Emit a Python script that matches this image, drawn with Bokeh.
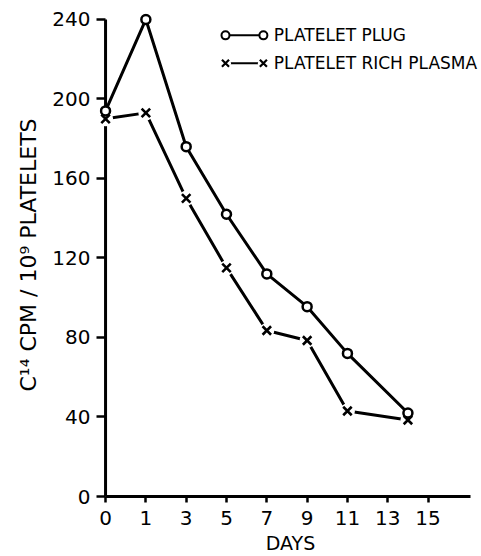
from bokeh.plotting import figure
from bokeh.models import Range1d, FixedTicker, Label
from bokeh.embed import file_html
from bokeh.resources import INLINE

# ---- data ----
days = [0, 1, 3, 5, 7, 9, 11, 14]
platelet_plug = [194, 240, 176, 142, 112, 95.5, 72, 42]
platelet_rich_plasma = [190, 193, 150, 115, 83.5, 78.5, 43, 38.5]
x_tick_days = [0, 1, 3, 5, 7, 9, 11, 13, 15]
y_ticks = [0, 40, 80, 120, 160, 200, 240]
series_names = ["PLATELET PLUG", "PLATELET RICH PLASMA"]

FONT = "DejaVu Sans"


def axis_pos(d):
    # the original axis draws day 0 one 2-day step before day 1
    return d if d >= 1 else d - 1


xs = [axis_pos(d) for d in days]
x0 = axis_pos(0)
x_axis_end = 17.1

p = figure(width=481, height=556,
           x_range=Range1d(x0 - 0.3, x_axis_end + 0.55), y_range=Range1d(0, 243),
           output_backend="svg", toolbar_location=None,
           min_border_left=99, min_border_right=0,
           min_border_top=13, min_border_bottom=60)
p.background_fill_color = "white"
p.border_fill_color = "white"
p.outline_line_color = None
p.xgrid.grid_line_color = None
p.ygrid.grid_line_color = None

# x axis
xa = p.xaxis[0]
xa.ticker = FixedTicker(ticks=[axis_pos(d) for d in x_tick_days])
xa.major_label_overrides = {axis_pos(d): str(d) for d in x_tick_days}
xa.bounds = (x0, x_axis_end)
xa.axis_label = "DAYS"
xa.axis_line_width = 3
xa.major_tick_line_width = 2.5
xa.major_tick_out = 6
xa.major_tick_in = 0
xa.minor_tick_line_color = None
xa.major_label_standoff = 8
xa.axis_label_standoff = 4
xa.major_label_text_font = FONT
xa.major_label_text_font_size = "20px"
xa.major_label_text_color = "black"
xa.axis_label_text_font = FONT
xa.axis_label_text_font_size = "19px"
xa.axis_label_text_font_style = "normal"
xa.axis_label_text_color = "black"

# y axis (its line is drawn as a segment at the day-0 position)
ya = p.yaxis[0]
ya.ticker = FixedTicker(ticks=y_ticks)
ya.axis_line_color = None
ya.axis_label = "C\u00b9\u2074 CPM / 10\u2079 PLATELETS"
ya.major_tick_line_width = 2.5
ya.major_tick_out = 3
ya.major_tick_in = 6
ya.minor_tick_line_color = None
ya.major_label_standoff = 6
ya.axis_label_standoff = 8
ya.major_label_text_font = FONT
ya.major_label_text_font_size = "20px"
ya.major_label_text_color = "black"
ya.axis_label_text_font = FONT
ya.axis_label_text_font_size = "22px"
ya.axis_label_text_font_style = "normal"
ya.axis_label_text_color = "black"

p.segment(x0=[x0], y0=[y_ticks[0]], x1=[x0], y1=[y_ticks[-1]],
          line_color="black", line_width=3)

# platelet rich plasma (x markers with small gaps in the line)
p.line(xs, platelet_rich_plasma, line_color="black", line_width=3)
p.scatter(xs, platelet_rich_plasma, marker="circle", size=15,
          fill_color="white", line_color=None)
p.scatter(xs, platelet_rich_plasma, marker="x", size=12,
          line_color="black", line_width=2.6)

# platelet plug (open circles)
p.line(xs, platelet_plug, line_color="black", line_width=3)
p.scatter(xs, platelet_plug, marker="circle", size=9, fill_color="white",
          line_color="black", line_width=2.5)

# legend drawn in the upper right
LEG_X = [4.95, 6.83]
LEG_Y = [232, 218]
LEG_TEXT_X = 7.35
p.line(LEG_X, [LEG_Y[0]] * 2, line_color="black", line_width=2)
p.scatter(LEG_X, [LEG_Y[0]] * 2, marker="circle", size=8, fill_color="white",
          line_color="black", line_width=2)
p.line(LEG_X, [LEG_Y[1]] * 2, line_color="black", line_width=2)
p.scatter(LEG_X, [LEG_Y[1]] * 2, marker="circle", size=11, fill_color="white",
          line_color=None)
p.scatter(LEG_X, [LEG_Y[1]] * 2, marker="x", size=10, line_color="black",
          line_width=2.2)
for name, ly in zip(series_names, LEG_Y):
    p.add_layout(Label(x=LEG_TEXT_X, y=ly, text=name, text_font=FONT,
                       text_font_size="17px", text_baseline="middle",
                       text_align="left", text_color="black"))

open("out.html", "w").write(file_html(p, INLINE))
